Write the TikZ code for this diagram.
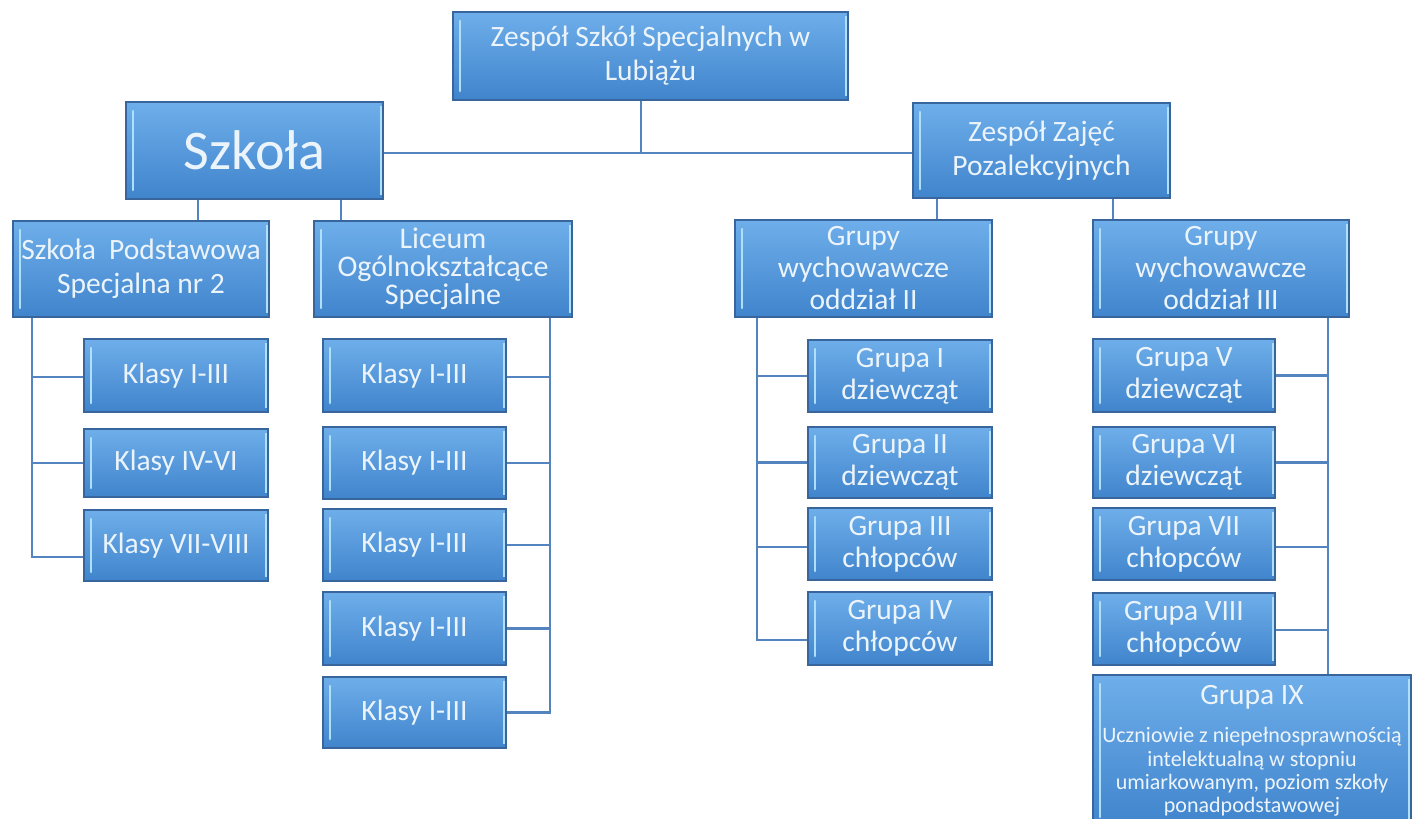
\documentclass[tikz,border=0pt]{standalone}
\usepackage{fontspec}
\setmainfont{Carlito}
\definecolor{boxtop}{RGB}{110,174,234}
\definecolor{boxbot}{RGB}{64,132,204}
\definecolor{boxline}{RGB}{56,102,156}
\definecolor{hilite}{RGB}{175,224,250}
\definecolor{txtcol}{RGB}{236,244,251}
\definecolor{linkcol}{RGB}{84,132,192}
\newcommand\myfs[2]{\fontsize{#1}{#2}\selectfont}
\tikzset{
  box/.style={draw=boxline, line width=1.3pt, top color=boxtop, bottom color=boxbot,
    text=txtcol, align=center, inner sep=0pt, font=\myfs{29.5}{34},
    path picture={
      \draw[hilite, line width=2.6pt, line cap=round]
        ([xshift=7pt,yshift=-9pt]path picture bounding box.north west) --
        ([xshift=7pt,yshift=9pt]path picture bounding box.south west);
      \draw[hilite, line width=2pt]
        ([xshift=-2.5pt,yshift=-4pt]path picture bounding box.north east) --
        ([xshift=-2.5pt,yshift=4pt]path picture bounding box.south east);
    }},
  link/.style={draw=linkcol, line width=2.5pt},
  plain/.style={text=txtcol, align=center, inner sep=0pt}
}
% name, left, top, right, bottom, text
\newcommand\bxx[7][]{\node[box, minimum width={(#5-#3)*1pt}, minimum height={(#6-#4)*1pt}, #1]
  (#2) at ({(#3+#5)/2},{(#4+#6)/2}) {#7};}
\begin{document}
\begin{tikzpicture}[x=1pt,y=-1pt]
\useasboundingbox (0,0) rectangle (1414,819);
\fill[white] (0,0) rectangle (1414,819);

% top level
\bxx{top}{453}{12}{848}{100}{Zespół Szkół Specjalnych w\\Lubiążu}
\bxx[font=\myfs{56}{60}]{szk}{126}{102}{383}{199}{Szkoła}
\bxx{zz}{913}{103}{1170}{198}{Zespół Zajęć\\Pozalekcyjnych}

% second level
\bxx{sp}{13}{221}{269}{317}{Szkoła\ \ Podstawowa\\Specjalna nr 2}
\bxx[font=\myfs{30}{28}]{lo}{314}{221}{572}{317}{Liceum\\Ogólnokształcące\\Specjalne}
\bxx[font=\myfs{29.5}{32}]{gii}{735}{220}{992}{317}{Grupy\\wychowawcze\\oddział II}
\bxx[font=\myfs{29.5}{32}]{giii}{1093}{220}{1349}{317}{Grupy\\wychowawcze\\oddział III}

% Szkoła Podstawowa classes
\bxx{ka}{84}{339}{268}{412}{Klasy I-III}
\bxx{kb}{84}{429}{268}{497}{Klasy IV-VI}
\bxx{kc}{84}{510}{268}{581}{Klasy VII-VIII}

% Liceum classes
\bxx{la}{323}{339}{506}{412}{Klasy I-III}
\bxx{lb}{323}{427}{506}{499}{Klasy I-III}
\bxx{lc}{323}{509}{506}{581}{Klasy I-III}
\bxx{ld}{323}{592}{506}{665}{Klasy I-III}
\bxx{le}{323}{677}{506}{748}{Klasy I-III}

% oddział II groups
\bxx[font=\myfs{29.5}{32}]{ga}{808}{340}{992}{412}{Grupa I\\dziewcząt}
\bxx[font=\myfs{29.5}{32}]{gb}{808}{427}{992}{498}{Grupa II\\dziewcząt}
\bxx[font=\myfs{29.5}{32}]{gc}{808}{508}{992}{580}{Grupa III\\chłopców}
\bxx[font=\myfs{29.5}{32}]{gd}{808}{592}{992}{665}{Grupa IV\\chłopców}

% oddział III groups
\bxx[font=\myfs{29.5}{32}]{ha}{1093}{339}{1275}{412}{Grupa V\\dziewcząt}
\bxx[font=\myfs{29.5}{32}]{hb}{1093}{427}{1275}{498}{Grupa VI\\dziewcząt}
\bxx[font=\myfs{29.5}{32}]{hc}{1093}{508}{1275}{580}{Grupa VII\\chłopców}
\bxx[font=\myfs{29.5}{32}]{hd}{1093}{593}{1275}{665}{Grupa VIII\\chłopców}

% Grupa IX
\bxx{gix}{1093}{675}{1411}{826}{}
\node[plain, font=\myfs{29.5}{30}] (gixt) at (1252,697) {Grupa IX};
\node[plain, font=\myfs{22}{23.3}] (gixb) at (1252,772) {Uczniowie z niepełnosprawnością\\intelektualną w stopniu\\umiarkowanym, poziom szkoły\\ponadpodstawowej};

% connector coordinates
\coordinate (hub) at (641,153);
\coordinate (xsp) at (198,0);
\coordinate (xlo) at (341,0);
\coordinate (xgii) at (937,0);
\coordinate (xgiii) at (1113,0);
\coordinate (spine1) at (32,0);
\coordinate (spine2) at (550,0);
\coordinate (spine3) at (757,0);
\coordinate (spine4) at (1328,0);

% level 1
\draw[link] (top.south -| hub) -- (hub);
\draw[link] (szk.east |- hub) -- (zz.west |- hub);
% level 2
\draw[link] (szk.south -| xsp) -- (sp.north -| xsp);
\draw[link] (szk.south -| xlo) -- (lo.north -| xlo);
\draw[link] (zz.south -| xgii) -- (gii.north -| xgii);
\draw[link] (zz.south -| xgiii) -- (giii.north -| xgiii);

% spine Szkoła Podstawowa
\draw[link] (sp.south -| spine1) |- ([yshift=-11.5pt]kc.west);
\draw[link] ([yshift=-1.5pt]ka.west) -- ([yshift=-1.5pt]ka.west -| spine1);
\draw[link] (kb.west) -- (kb.west -| spine1);

% spine Liceum
\draw[link] (lo.south -| spine2) |- (le.east);
\draw[link] ([yshift=-1.5pt]la.east) -- ([yshift=-1.5pt]la.east -| spine2);
\draw[link] (lb.east) -- (lb.east -| spine2);
\draw[link] (lc.east) -- (lc.east -| spine2);
\draw[link] (ld.east) -- (ld.east -| spine2);

% spine oddział II
\draw[link] (gii.south -| spine3) |- ([yshift=-11.5pt]gd.west);
\draw[link] (ga.west) -- (ga.west -| spine3);
\draw[link] (gb.west) -- (gb.west -| spine3);
\draw[link] ([yshift=-3pt]gc.west) -- ([yshift=-3pt]gc.west -| spine3);

% spine oddział III
\draw[link] (giii.south -| spine4) -- (gix.north -| spine4);
\draw[link] (ha.east) -- (ha.east -| spine4);
\draw[link] (hb.east) -- (hb.east -| spine4);
\draw[link] ([yshift=-3pt]hc.east) -- ([yshift=-3pt]hc.east -| spine4);
\draw[link] ([yshift=-1pt]hd.east) -- ([yshift=-1pt]hd.east -| spine4);
\end{tikzpicture}
\end{document}
